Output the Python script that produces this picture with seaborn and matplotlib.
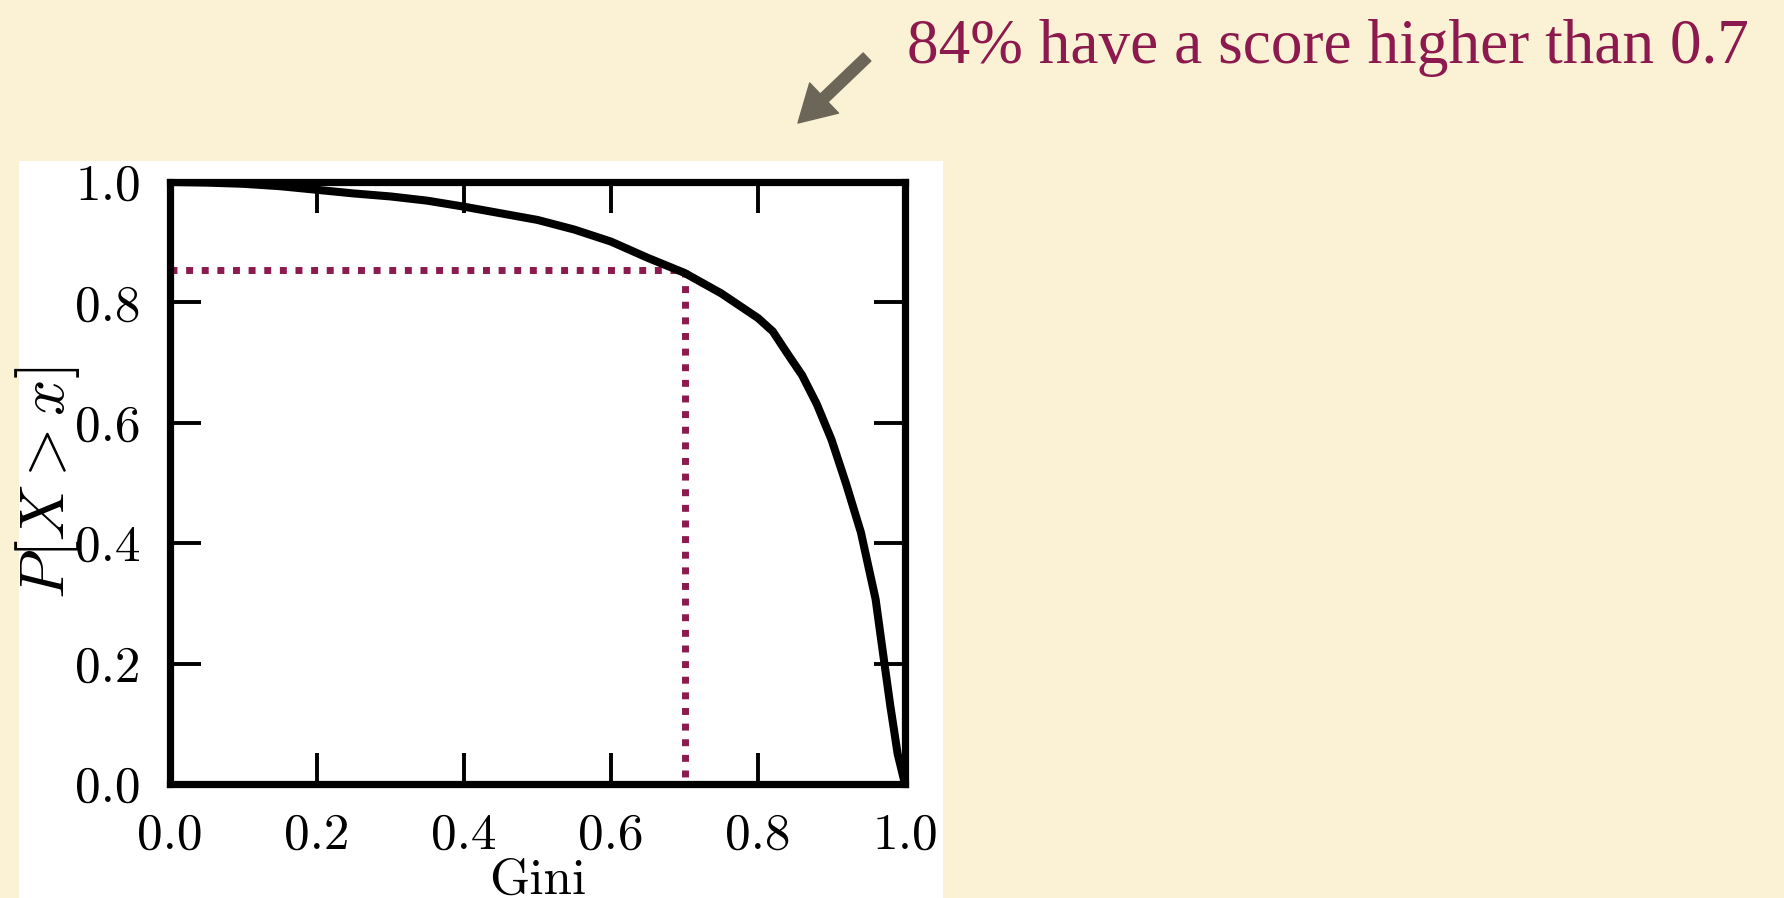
import numpy as np
import pandas as pd
import matplotlib
matplotlib.use("Agg")
import matplotlib.pyplot as plt
import seaborn as sns
from matplotlib.patches import FancyArrowPatch

# ---- data ----
gini = [0.0, 0.05, 0.1, 0.15, 0.2, 0.25, 0.3, 0.35, 0.4, 0.45, 0.5, 0.55, 0.6,
        0.65, 0.7, 0.75, 0.8, 0.82, 0.84, 0.86, 0.88, 0.9, 0.92, 0.94, 0.96,
        0.97, 0.98, 0.99, 1.0]
p_greater = [1.0, 0.999, 0.997, 0.993, 0.987, 0.981, 0.976, 0.969, 0.959, 0.948,
             0.937, 0.921, 0.901, 0.874, 0.849, 0.815, 0.774, 0.752, 0.715,
             0.679, 0.631, 0.572, 0.498, 0.418, 0.307, 0.218, 0.130, 0.050, 0.0]
threshold_x = 0.7
threshold_p = 0.853
tick_values = [0.0, 0.2, 0.4, 0.6, 0.8, 1.0]
tick_labels = ["0.0", "0.2", "0.4", "0.6", "0.8", "1.0"]
annotation = "84% have a score higher than 0.7"

BG = "#fbf1d4"
MAROON = "#8c1a4e"
ARROW = "#6b6658"

sns.set_theme(style="white")
plt.rcParams["mathtext.fontset"] = "cm"
plt.rcParams["axes.formatter.use_mathtext"] = True

W, H, DPI = 1784, 898, 100
fig = plt.figure(figsize=(W / DPI, H / DPI), dpi=DPI, facecolor=BG)

# white panel behind the plot
panel = fig.add_axes([19 / W, 0, (943 - 19) / W, (898 - 161) / H], zorder=-5)
panel.set_facecolor("white")
panel.set_xticks([])
panel.set_yticks([])
for s in panel.spines.values():
    s.set_visible(False)

ax_l, ax_r, ax_t, ax_b = 170, 905, 182, 784
ax = fig.add_axes([ax_l / W, 1 - ax_b / H, (ax_r - ax_l) / W, (ax_b - ax_t) / H],
                  zorder=1)
ax.set_facecolor("white")

df = pd.DataFrame({"Gini": gini, "P": p_greater})
sns.lineplot(data=df, x="Gini", y="P", ax=ax, color="black", linewidth=5.8,
             estimator=None, sort=False, zorder=3)

# dotted guide lines
ax.plot([0.0, threshold_x], [threshold_p, threshold_p], color=MAROON,
        linewidth=5, linestyle=(0, (1.0, 1.25)), dash_capstyle="butt", zorder=2)
ax.plot([threshold_x, threshold_x], [threshold_p, 0.0], color=MAROON,
        linewidth=5, linestyle=(0, (1.0, 1.25)), dash_capstyle="butt", zorder=2)

ax.set_xlim(0, 1)
ax.set_ylim(0, 1)
ax.set_xticks(tick_values)
ax.set_yticks(tick_values)
ax.set_xticklabels(tick_labels, fontfamily="cmr10", fontsize=37)
ax.set_yticklabels(tick_labels, fontfamily="cmr10", fontsize=37)
ax.tick_params(direction="in", length=22, width=2.8, color="black",
               top=True, right=True, bottom=True, left=True, pad=21,
               labelcolor="black")
for s in ax.spines.values():
    s.set_linewidth(5.2)
    s.set_color("black")
    s.set_visible(True)

ax.set_xlabel("Gini", fontfamily="cmr10", fontsize=37, color="black")
ax.set_ylabel(r"$P[X > x]$", fontsize=46, color="black")
ax.xaxis.set_label_coords(0.5, -0.122)
ax.yaxis.set_label_coords(-0.12, 0.5)
ax.grid(False)

# annotation text + arrow
fig.text(907 / W, 1 - 63 / H, annotation, color=MAROON, fontsize=45.5,
         fontfamily="Liberation Serif", ha="left", va="baseline")
arrow = FancyArrowPatch((867 / W, 1 - 57 / H), (798 / W, 1 - 123 / H),
                        transform=fig.transFigure,
                        arrowstyle="simple,head_length=1.3,head_width=1.5,tail_width=0.4",
                        mutation_scale=20, color=ARROW, shrinkA=0, shrinkB=0)
fig.patches.append(arrow)

fig.savefig("out.png", dpi=DPI, facecolor=BG)
